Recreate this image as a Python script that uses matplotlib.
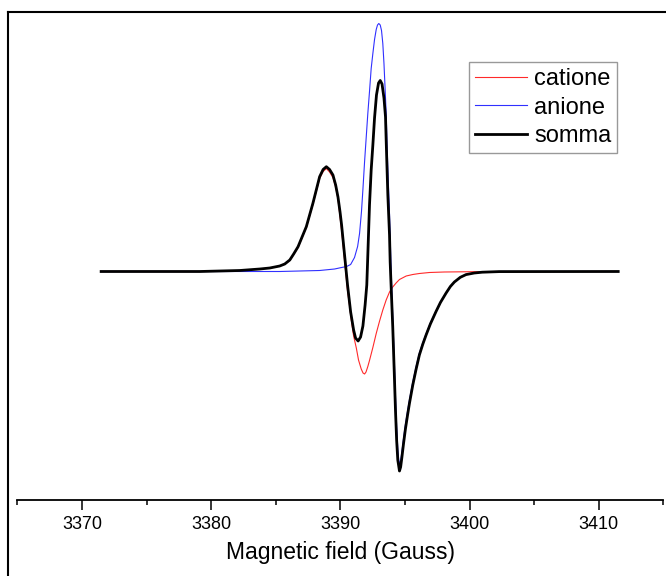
import matplotlib
matplotlib.use("Agg")
import matplotlib.pyplot as plt
from matplotlib.lines import Line2D
from matplotlib.ticker import MultipleLocator

plt.rcParams['font.family'] = ['Liberation Sans', 'DejaVu Sans']

# spectra (field in Gauss, intensity in arbitrary units)
field_cat = [3371.49, 3379.14, 3382.22, 3383.77, 3384.54, 3385.31, 3385.70, 3386.09,
             3386.39, 3386.73, 3387.37, 3387.88, 3388.40, 3388.67, 3388.92, 3389.17,
             3389.43, 3389.64, 3389.82, 3390.10, 3390.33, 3390.56, 3390.72, 3390.85,
             3391.03, 3391.24, 3391.41, 3391.62, 3391.76, 3391.88, 3391.99, 3392.13,
             3392.26, 3392.52, 3392.78, 3393.03, 3393.29, 3393.55, 3393.81, 3394.06,
             3394.32, 3394.58, 3395.10, 3395.61, 3396.12, 3396.90, 3398.05, 3400.22,
             3411.51]
int_cat = [0, 0, 1, 2.5, 3.5, 5.5, 7.5, 11,
           17, 24, 44, 67, 93, 100, 103, 99.5,
           94, 84.5, 72.5, 41, 11, -19.5, -34.5, -48.5,
           -64.5, -76.5, -88.5, -97.5, -101.5, -102.5, -100.5, -95,
           -89, -76, -62, -50, -38.5, -28.5, -20.5, -15.5,
           -11.5, -8, -4.5, -3, -2, -1, -0.5, -0.2,
           0]

field_an = [3371.49, 3385.31, 3388.40, 3389.56, 3390.10, 3390.49, 3390.80, 3391.10,
            3391.34, 3391.49, 3391.64, 3391.75, 3391.88, 3392.01, 3392.13, 3392.26,
            3392.39, 3392.52, 3392.65, 3392.78, 3392.88, 3392.98, 3393.09, 3393.19,
            3393.29, 3393.38, 3393.46, 3393.55, 3393.61, 3393.68, 3393.75, 3393.81,
            3393.87, 3393.92, 3393.99, 3394.06, 3394.17, 3394.27, 3394.36, 3394.45,
            3394.52, 3394.58, 3394.67, 3394.77, 3394.89, 3395.04, 3395.20, 3395.35,
            3395.61, 3395.87, 3396.12, 3396.39, 3396.64, 3396.97, 3397.41, 3397.75,
            3398.19, 3398.52, 3398.83, 3399.29, 3399.73, 3400.37, 3400.99, 3402.30,
            3411.51]
int_an = [0, 0, 1, 2.5, 4, 5, 7, 14,
          25, 38, 60, 82, 110, 135, 158, 180,
          203, 218, 232, 242, 246.5, 248, 246.5, 241,
          228, 208, 185, 158, 130, 102, 78, 57,
          30, 8, -20, -45, -85, -125, -155, -178,
          -188, -192, -189.5, -180, -167.5, -153, -140, -128.5,
          -110.5, -95, -81.5, -71, -62.3, -51.5, -39.4, -30.5,
          -21.2, -14.8, -10.3, -5.7, -3, -1.4, -0.6, 0,
          0]

field_sum = [3371.49, 3379.14, 3382.22, 3383.77, 3384.54, 3385.31, 3385.70, 3386.09,
             3386.39, 3386.73, 3387.37, 3387.88, 3388.40, 3388.67, 3388.92, 3389.17,
             3389.43, 3389.64, 3389.82, 3389.98, 3390.10, 3390.33, 3390.56, 3390.80,
             3391.03, 3391.18, 3391.38, 3391.57, 3391.75, 3391.92, 3392.05, 3392.13,
             3392.26, 3392.39, 3392.52, 3392.65, 3392.80, 3392.96, 3393.09, 3393.23,
             3393.38, 3393.50, 3393.55, 3393.68, 3393.81, 3393.86, 3393.96, 3394.06,
             3394.17, 3394.27, 3394.36, 3394.45, 3394.58, 3394.67, 3394.77, 3394.89,
             3395.04, 3395.20, 3395.35, 3395.61, 3395.87, 3396.12, 3396.39, 3396.64,
             3396.97, 3397.41, 3397.75, 3398.19, 3398.52, 3398.83, 3399.29, 3399.73,
             3400.37, 3400.99, 3402.30, 3411.51]
int_sum = [0, 0, 1, 2.5, 3.5, 5.5, 7.5, 11.5,
           17.5, 24.8, 44.8, 68.2, 94.8, 102, 104.8, 102,
           96.5, 86.5, 74.5, 59.5, 46.5, 16.5, -13.5, -40.5,
           -58.5, -66.5, -69.5, -65.5, -54.5, -33.5, -13.5, 16.5,
           66.5, 101.5, 126.5, 153.5, 176.5, 188.5, 191, 187.5,
           173.5, 154.5, 131.5, 76.5, 36.5, 9.5, -23.5, -55.5,
           -98.5, -138.5, -168.5, -188.5, -199.5, -195.5, -185.5, -172.5,
           -157.5, -144, -132, -113.5, -97.5, -83.5, -72.5, -63.5,
           -52.5, -40, -31, -21.5, -15, -10.5, -5.8, -3.1,
           -1.5, -0.7, -0.1, 0]

W, H = 666, 576
fig = plt.figure(figsize=(W / 100, H / 100), dpi=100)
ax = fig.add_axes([17.3 / W, 76 / H, 646 / W, 488 / H])

ax.plot(field_cat, int_cat, color='#ff2a2a', lw=0.8, label='catione')
ax.plot(field_an, int_an, color='#3030ff', lw=0.8, label='anione')
ax.plot(field_sum, int_sum, color='black', lw=2.0, label='somma')

ax.set_xlim(3365, 3415)
ax.set_ylim(-228.5, 259.5)

for s in ['left', 'right', 'top']:
    ax.spines[s].set_visible(False)
ax.spines['bottom'].set_linewidth(1.3)
ax.set_yticks([])
ax.xaxis.set_major_locator(MultipleLocator(10))
ax.xaxis.set_minor_locator(MultipleLocator(5))
ax.tick_params(axis='x', which='major', direction='out', length=7.2, width=1.1,
               labelsize=13, pad=4)
ax.tick_params(axis='x', which='minor', direction='out', length=3.6, width=1.1)
ax.set_xlabel('Magnetic field (Gauss)', fontsize=16.5, labelpad=6)

leg = ax.legend(loc='upper left', bbox_to_anchor=(469 / W, 1 - 62.3 / H),
                bbox_transform=fig.transFigure, fontsize=17, frameon=True,
                fancybox=False, edgecolor='#808080', borderpad=0.25,
                handlelength=2.2, handletextpad=0.3, labelspacing=0.27,
                borderaxespad=0)
leg.get_frame().set_linewidth(1.0)

# outer frame (top and left edges of the original panel)
fig.add_artist(Line2D([7.5 / W, 1], [1 - 12 / H, 1 - 12 / H], transform=fig.transFigure,
                      color='black', lw=1.5))
fig.add_artist(Line2D([7.5 / W, 7.5 / W], [0, 1 - 12 / H], transform=fig.transFigure,
                      color='black', lw=1.5))

fig.savefig('out.png', dpi=100)
